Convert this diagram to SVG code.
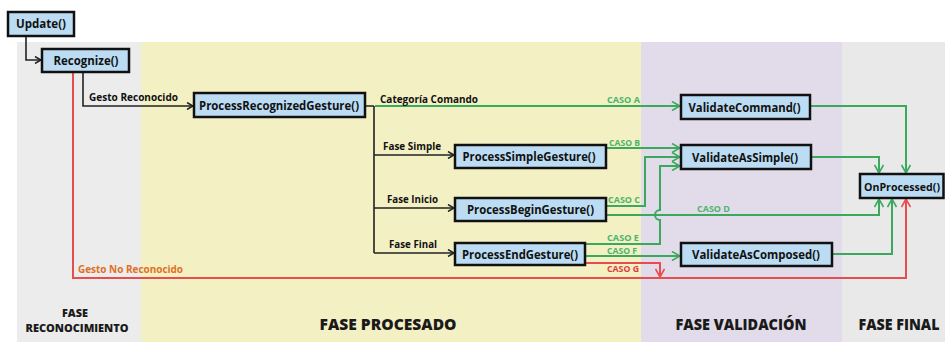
<svg xmlns="http://www.w3.org/2000/svg" width="945" height="342" viewBox="0 0 945 342">
<style>
.node rect{fill:#bcdcf4;stroke:#111;stroke-width:2.5}
.node text{font-family:"Open Sans","Liberation Sans",sans-serif;font-weight:700;font-size:12.5px;fill:#111;text-anchor:middle}
.lbl{font-family:"Open Sans","Liberation Sans",sans-serif;font-weight:700;font-size:10.5px;fill:#111}
.g{stroke:#3aa95e;stroke-width:2;fill:none}
.r{stroke:#e94c4f;stroke-width:2;fill:none}
.k{stroke:#222;stroke-width:1.6;fill:none}
.gl{font-family:"Open Sans","Liberation Sans",sans-serif;font-weight:700;font-size:9px;fill:#4cb56c}
.rl{font-family:"Open Sans","Liberation Sans",sans-serif;font-weight:700;font-size:9px;fill:#e2393f}
.ph{font-family:"Open Sans","Liberation Sans",sans-serif;font-weight:800;fill:#1a1a1a;text-anchor:middle}
</style>
<defs>
<marker id="ak" viewBox="0 0 8 8" refX="7" refY="4" markerWidth="8" markerHeight="8" markerUnits="userSpaceOnUse" orient="auto"><path d="M1,0.5 L7,4 L1,7.5" fill="none" stroke="#222" stroke-width="1.5"/></marker>
<marker id="ag" viewBox="0 0 10 10" refX="9" refY="5" markerWidth="10" markerHeight="10" markerUnits="userSpaceOnUse" orient="auto"><path d="M1,0.5 L9,5 L1,9.5" fill="none" stroke="#3aa95e" stroke-width="1.6"/></marker>
<marker id="ar" viewBox="0 0 10 10" refX="9" refY="5" markerWidth="10" markerHeight="10" markerUnits="userSpaceOnUse" orient="auto"><path d="M1,0.5 L9,5 L1,9.5" fill="none" stroke="#e94c4f" stroke-width="1.6"/></marker>
</defs>
<rect width="945" height="342" fill="#fff"/>
<g id="bands">
<rect x="17" y="42" width="124" height="300" fill="#ececec"/>
<rect x="141" y="42" width="500" height="300" fill="#f3f0c4"/>
<rect x="641" y="42" width="201" height="300" fill="#e2dcea"/>
<rect x="842" y="42" width="103" height="300" fill="#e9e9e9"/>
<text class="ph" x="75" y="317" font-size="11" textLength="26" lengthAdjust="spacingAndGlyphs">FASE</text>
<text class="ph" x="77" y="332" font-size="11" textLength="103" lengthAdjust="spacingAndGlyphs">RECONOCIMIENTO</text>
<text class="ph" x="388" y="330" font-size="15" textLength="137" lengthAdjust="spacingAndGlyphs">FASE PROCESADO</text>
<text class="ph" x="741" y="330" font-size="15" textLength="131" lengthAdjust="spacingAndGlyphs">FASE VALIDACIÓN</text>
<text class="ph" x="899" y="330" font-size="15" textLength="81" lengthAdjust="spacingAndGlyphs">FASE FINAL</text>
</g>
<g id="connectors">
<path class="k" d="M26,36 V60 H41" marker-end="url(#ak)"/>
<path class="k" d="M83,72 V106 H193" marker-end="url(#ak)"/>
<path class="r" d="M73,72 V278 H906 V199" marker-end="url(#ar)"/>
<path class="k" d="M365,106 H374 M374,106 V253"/>
<path class="k" d="M374,155 H454" marker-end="url(#ak)"/>
<path class="k" d="M374,208 H454" marker-end="url(#ak)"/>
<path class="k" d="M374,253 H454" marker-end="url(#ak)"/>
<path class="g" d="M375,106 H680" marker-end="url(#ag)"/>
<path class="g" d="M606,148 H680" marker-end="url(#ag)"/>
<path class="g" d="M606,206 H645 V157 H680" marker-end="url(#ag)"/>
<path class="g" d="M606,215 H879 V199" marker-end="url(#ag)"/>
<path class="g" d="M585,244 H660 V220 A5,5 0 0 1 660,210 V166 H680" marker-end="url(#ag)"/>
<path class="g" d="M585,256 H680" marker-end="url(#ag)"/>
<path class="r" d="M585,263 H660 V277" marker-end="url(#ar)"/>
<path class="g" d="M810,106 H906 V173" marker-end="url(#ag)"/>
<path class="g" d="M811,157 H879 V173" marker-end="url(#ag)"/>
<path class="g" d="M832,254 H892 V199" marker-end="url(#ag)"/>
<text class="lbl" x="89" y="101" textLength="89" lengthAdjust="spacingAndGlyphs">Gesto Reconocido</text>
<text class="lbl" x="78" y="273" style="fill:#e0701f" textLength="105" lengthAdjust="spacingAndGlyphs">Gesto No Reconocido</text>
<text class="lbl" x="380" y="103" textLength="98" lengthAdjust="spacingAndGlyphs">Categoría Comando</text>
<text class="lbl" x="383" y="150" textLength="58" lengthAdjust="spacingAndGlyphs">Fase Simple</text>
<text class="lbl" x="387" y="203" textLength="51" lengthAdjust="spacingAndGlyphs">Fase Inicio</text>
<text class="lbl" x="389" y="248" textLength="48" lengthAdjust="spacingAndGlyphs">Fase Final</text>
<text class="gl" x="607" y="103" textLength="33" lengthAdjust="spacingAndGlyphs">CASO A</text>
<text class="gl" x="609" y="146" textLength="31" lengthAdjust="spacingAndGlyphs">CASO B</text>
<text class="gl" x="608" y="203" textLength="32" lengthAdjust="spacingAndGlyphs">CASO C</text>
<text class="gl" x="697" y="212" textLength="33" lengthAdjust="spacingAndGlyphs">CASO D</text>
<text class="gl" x="607" y="241" textLength="32" lengthAdjust="spacingAndGlyphs">CASO E</text>
<text class="gl" x="607" y="254" textLength="30" lengthAdjust="spacingAndGlyphs">CASO F</text>
<text class="rl" x="607" y="272" textLength="32" lengthAdjust="spacingAndGlyphs">CASO G</text>
</g>
<g id="update" class="node"><rect x="8" y="12" width="66" height="24"/><text x="41" y="28" textLength="50" lengthAdjust="spacingAndGlyphs">Update()</text></g>
<g id="recognize" class="node"><rect x="42" y="49" width="87" height="23"/><text x="86" y="65" textLength="65" lengthAdjust="spacingAndGlyphs">Recognize()</text></g>
<g id="processRecognized" class="node"><rect x="194" y="93" width="171" height="24"/><text x="279" y="109.5" textLength="160" lengthAdjust="spacingAndGlyphs">ProcessRecognizedGesture()</text></g>
<g id="processSimple" class="node"><rect x="455" y="145" width="151" height="23"/><text x="529" y="161" textLength="133" lengthAdjust="spacingAndGlyphs">ProcessSimpleGesture()</text></g>
<g id="processBegin" class="node"><rect x="455" y="198" width="151" height="23"/><text x="530.5" y="214" textLength="127" lengthAdjust="spacingAndGlyphs">ProcessBeginGesture()</text></g>
<g id="processEnd" class="node"><rect x="455" y="243" width="130" height="22"/><text x="520" y="258.5" textLength="116" lengthAdjust="spacingAndGlyphs">ProcessEndGesture()</text></g>
<g id="validateCommand" class="node"><rect x="681" y="95" width="129" height="24"/><text x="744.5" y="111.5" textLength="112" lengthAdjust="spacingAndGlyphs">ValidateCommand()</text></g>
<g id="validateAsSimple" class="node"><rect x="681" y="145" width="130" height="24"/><text x="745" y="161.5" textLength="106" lengthAdjust="spacingAndGlyphs">ValidateAsSimple()</text></g>
<g id="validateAsComposed" class="node"><rect x="681" y="243" width="151" height="23"/><text x="756" y="259" textLength="128" lengthAdjust="spacingAndGlyphs">ValidateAsComposed()</text></g>
<g id="onProcessed" class="node"><rect x="860" y="174" width="83.5" height="24"/><text x="902" y="190.5" style="font-size:11px" textLength="76" lengthAdjust="spacingAndGlyphs">OnProcessed()</text></g>
</svg>
